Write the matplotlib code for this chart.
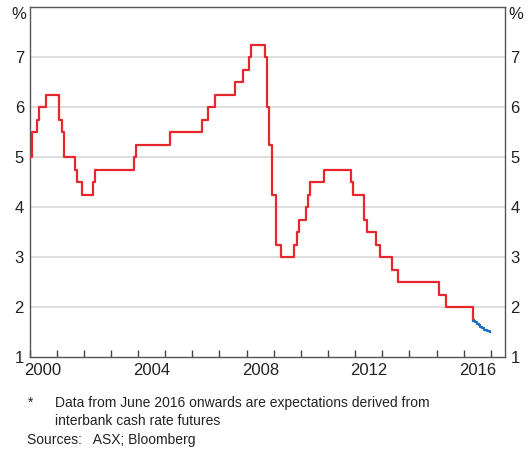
import matplotlib
matplotlib.use("Agg")
import matplotlib.pyplot as plt
from matplotlib.ticker import FixedLocator, NullFormatter

plt.rcParams['font.family'] = ['Liberation Sans', 'DejaVu Sans']

# cash rate target, decimal year of each change and the new level
rate_dates = [2000.0, 2000.09, 2000.29, 2000.34, 2000.59, 2001.10, 2001.18, 2001.26,
              2001.67, 2001.76, 2001.92, 2002.35, 2002.43, 2003.84, 2003.92, 2005.17,
              2006.35, 2006.59, 2006.84, 2007.59, 2007.85, 2008.10, 2008.17, 2008.68,
              2008.76, 2008.84, 2008.92, 2009.09, 2009.26, 2009.76, 2009.84, 2009.92,
              2010.17, 2010.26, 2010.34, 2010.84, 2011.84, 2011.92, 2012.34, 2012.43,
              2012.76, 2012.92, 2013.34, 2013.59, 2015.09, 2015.34, 2016.34, 2016.36]
rate_levels = [5.0, 5.5, 5.75, 6.0, 6.25, 5.75, 5.5, 5.0,
               4.75, 4.5, 4.25, 4.5, 4.75, 5.0, 5.25, 5.5,
               5.75, 6.0, 6.25, 6.5, 6.75, 7.0, 7.25, 7.0,
               6.0, 5.25, 4.25, 3.25, 3.0, 3.25, 3.5, 3.75,
               4.0, 4.25, 4.5, 4.75, 4.5, 4.25, 3.75, 3.5,
               3.25, 3.0, 2.75, 2.5, 2.25, 2.0, 1.75, 1.75]

# market expectations (futures), June 2016 onwards
exp_dates = [2016.35, 2016.42, 2016.48, 2016.56, 2016.60, 2016.68, 2016.75, 2016.85, 2016.97]
exp_levels = [1.73, 1.70, 1.66, 1.64, 1.61, 1.59, 1.55, 1.53, 1.51]

year_ticks = list(range(2000, 2018))
label_years = [2000, 2004, 2008, 2012, 2016]
y_ticks = [1, 2, 3, 4, 5, 6, 7]

fig = plt.figure(figsize=(5.31, 4.51), dpi=100)
ax = fig.add_axes([29.5 / 531, 1 - 357 / 451, 475.5 / 531, 350 / 451])

for y in y_ticks[1:]:
    ax.axhline(y, color="#d4d4d4", lw=1.1, zorder=1)

ax.step(rate_dates, rate_levels, where="post", color="#e8262d", lw=1.6, zorder=3)
ax.step(exp_dates, exp_levels, where="post", color="#1f6fbf", lw=1.6, zorder=3)

ax.set_xlim(2000, 2017.52)
ax.set_ylim(1, 8)

ax.xaxis.set_major_locator(FixedLocator(year_ticks))
ax.xaxis.set_major_formatter(NullFormatter())
ax.xaxis.set_minor_locator(FixedLocator([y + 0.5 for y in label_years]))
ax.set_xticklabels([str(y) for y in label_years], minor=True)
ax.tick_params(axis="x", which="major", direction="in", length=5, width=1, color="#444444")
ax.tick_params(axis="x", which="minor", length=0, pad=4, labelsize=12, labelcolor="#222222")

ax.set_yticks(y_ticks)
ax.set_yticklabels([str(y) for y in y_ticks])
ax.tick_params(axis="y", which="both", length=0, pad=4, labelsize=12, labelcolor="#222222",
               left=True, right=True, labelleft=True, labelright=True)

for s in ax.spines.values():
    s.set_color("#555555")
    s.set_linewidth(1.0)

fig.text(26 / 531, 1 - 14.5 / 451, "%", fontsize=12, color="#222222", ha="right", va="center")
fig.text(508 / 531, 1 - 14.5 / 451, "%", fontsize=12, color="#222222", ha="left", va="center")

fig.text(28 / 531, 1 - 403 / 451, "*", fontsize=10, color="#222222", ha="left", va="center")
fig.text(55 / 531, 1 - 403 / 451, "Data from June 2016 onwards are expectations derived from",
         fontsize=10, color="#222222", ha="left", va="center")
fig.text(55 / 531, 1 - 421 / 451, "interbank cash rate futures",
         fontsize=10, color="#222222", ha="left", va="center")
fig.text(27 / 531, 1 - 440 / 451, "Sources:   ASX; Bloomberg",
         fontsize=10, color="#222222", ha="left", va="center")

fig.savefig("out.png", dpi=100)
